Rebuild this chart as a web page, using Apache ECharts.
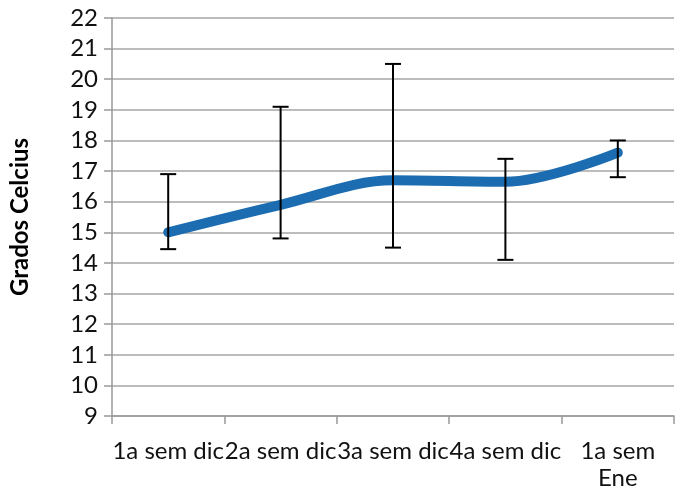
<!DOCTYPE html>
<html>
<head>
<meta charset="utf-8">
<script src="https://cdn.jsdelivr.net/npm/echarts@6/dist/echarts.min.js"></script>
<style>html,body{margin:0;padding:0;background:#fff}#c{width:684px;height:493px}</style>
</head>
<body>
<div id="c"></div>
<script>
var categories = ['1a sem dic', '2a sem dic', '3a sem dic', '4a sem dic', '1a sem Ene'];
var means = [15.0, 15.9, 16.7, 16.65, 17.6];
var errHigh = [16.9, 19.1, 20.5, 17.4, 18.0];
var errLow = [14.45, 14.8, 14.5, 14.1, 16.8];
var yTicks = { min: 9, max: 22, interval: 1 };
var yTitle = 'Grados Celcius';

var FONT = 'Lato, "Open Sans", sans-serif';
var chart = echarts.init(document.getElementById('c'), null, { renderer: 'canvas' });
var errData = categories.map(function (c, i) { return [i, errLow[i], errHigh[i]]; });

chart.setOption({
  animation: false,
  backgroundColor: '#fff',
  grid: { left: 108, right: 10, top: 18, bottom: 77 },
  xAxis: {
    type: 'category',
    data: categories,
    boundaryGap: true,
    axisLine: { lineStyle: { color: '#999', width: 1.5 } },
    axisTick: { show: true, length: 8, lineStyle: { color: '#999', width: 1.5 } },
    axisLabel: {
      color: '#111', fontSize: 24, fontFamily: FONT, margin: 22, lineHeight: 27,
      interval: 0,
      formatter: function (v) { return v.replace(' Ene', '\nEne'); }
    },
    splitLine: { show: false }
  },
  yAxis: {
    type: 'value',
    min: yTicks.min, max: yTicks.max, interval: yTicks.interval,
    name: yTitle,
    nameLocation: 'middle',
    nameGap: 80,
    nameTextStyle: { color: '#000', fontSize: 24, fontWeight: 'bold', fontFamily: FONT },
    axisLine: { show: true, lineStyle: { color: '#999', width: 1.5 } },
    axisTick: { show: true, length: 8, lineStyle: { color: '#999', width: 1.5 } },
    axisLabel: { color: '#111', fontSize: 24, fontFamily: FONT, margin: 14 },
    splitLine: { show: true, lineStyle: { color: '#a6a6a6', width: 1.5 } }
  },
  series: [
    {
      type: 'line',
      data: means,
      smooth: 0.35,
      symbol: 'none',
      lineStyle: { color: '#1b6cb0', width: 10, cap: 'round', join: 'round' },
      z: 2
    },
    {
      type: 'custom',
      data: errData,
      z: 3,
      renderItem: function (params, api) {
        var x = api.value(0);
        var lo = api.coord([x, api.value(1)]);
        var hi = api.coord([x, api.value(2)]);
        var hw = 8;
        var st = { stroke: '#000', lineWidth: 2 };
        return {
          type: 'group',
          children: [
            { type: 'line', shape: { x1: hi[0], y1: hi[1], x2: lo[0], y2: lo[1] }, style: st },
            { type: 'line', shape: { x1: hi[0] - hw, y1: hi[1], x2: hi[0] + hw, y2: hi[1] }, style: st },
            { type: 'line', shape: { x1: lo[0] - hw, y1: lo[1], x2: lo[0] + hw, y2: lo[1] }, style: st }
          ]
        };
      }
    }
  ]
});
</script>
</body>
</html>
